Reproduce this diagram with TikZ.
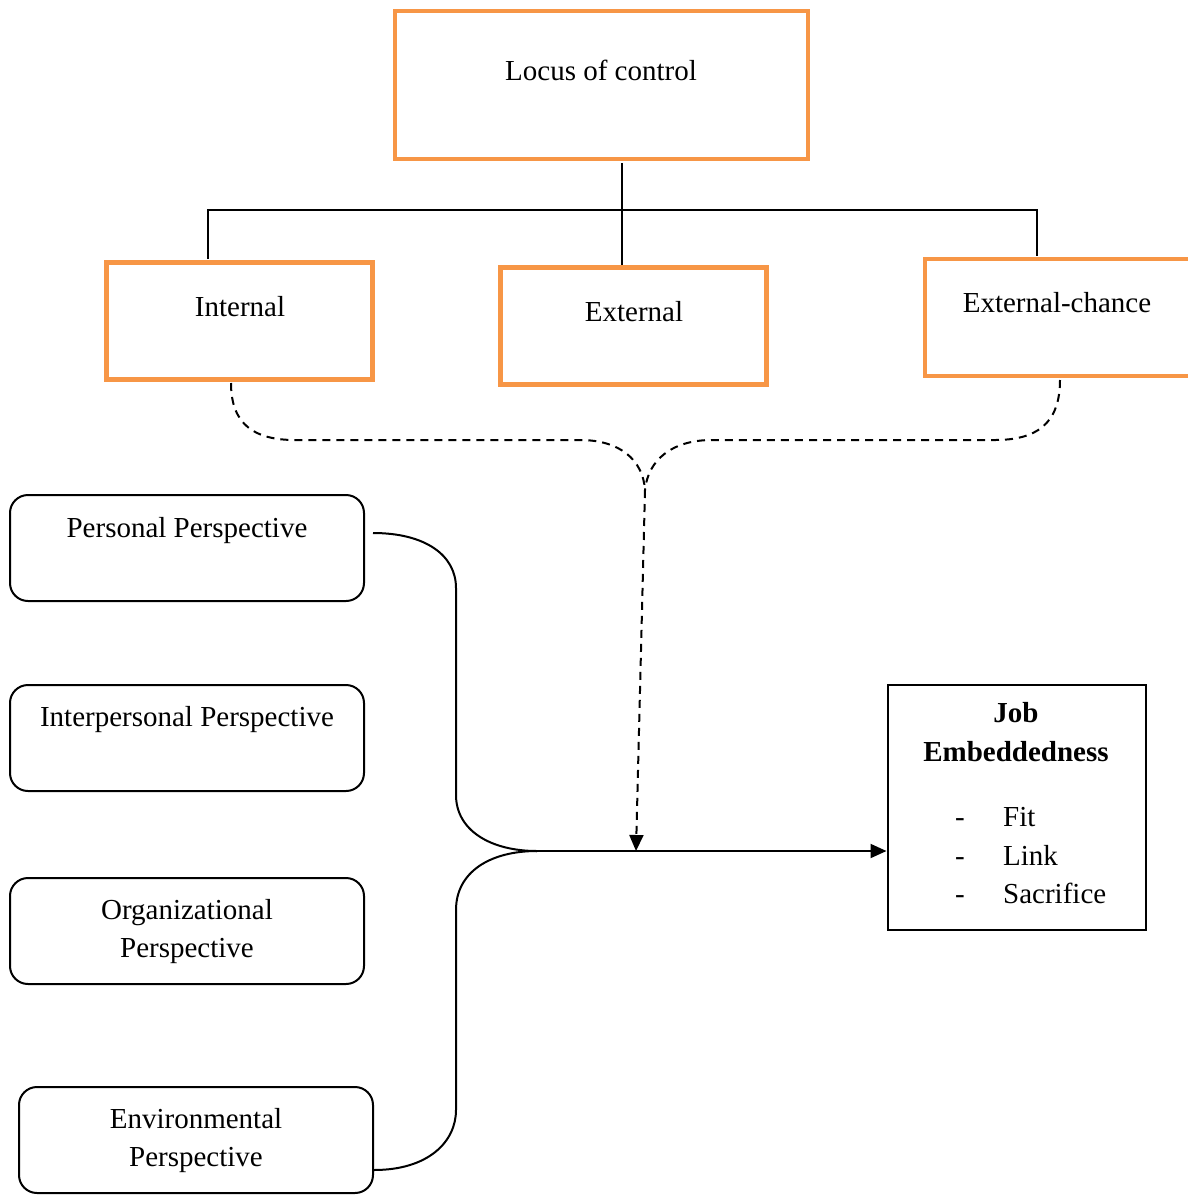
\documentclass[tikz,border=0pt]{standalone}
\usepackage{fontspec}
\setmainfont{Liberation Serif}
\usetikzlibrary{arrows.meta}
\definecolor{orng}{HTML}{F79646}
\begin{document}
\begin{tikzpicture}[x=1pt,y=-1pt,
  obox/.style={draw=orng,line width=4.5pt,minimum width=#1,inner sep=0pt},
  rbox/.style={draw=black,line width=2pt,rounded corners=18pt,minimum width=354pt,minimum height=106pt,inner sep=0pt},
  txt/.style={font=\fontsize{29}{35}\selectfont,anchor=base,inner sep=0pt},
  conn/.style={line width=2pt},
  dconn/.style={line width=2pt,dash pattern=on 8pt off 6pt},
  arr/.style={-{Triangle[length=16pt,width=14pt]}}]
\useasboundingbox (0,0) rectangle (1188,1195);
\fill[white] (0,0) rectangle (1188,1195);
% top boxes
\node[obox=413pt,minimum height=148pt] (loc) at (601.5,85) {};
\node[obox=266pt,minimum height=117pt] (int) at (239.5,321) {};
\node[obox=266pt,minimum height=117pt] (ext) at (633.5,326) {};
\node[obox=266pt,minimum height=117pt] (exc) at (1058,317.5) {};
\node[txt] (loct) at (601,80) {Locus of control};
\node[txt] (intt) at (240,316) {Internal};
\node[txt] (extt) at (634,321) {External};
\node[txt] (exct) at (1057,312) {External-chance};
% tree connectors
\draw[conn] (622,163) -- (622,265);
\draw[conn] (208,259) |- (1037,210) -- (1037,256);
% left boxes
\node[rbox] (per) at (187,548) {};
\node[rbox] (intp) at (187,738) {};
\node[rbox] (org) at (187,931) {};
\node[rbox] (env) at (196,1140) {};
\node[txt] (pert) at (187,537) {Personal Perspective};
\node[txt] (intpt) at (187,726) {Interpersonal Perspective};
\node[txt] (orgt1) at (187,919) {Organizational};
\node[txt] (orgt2) at (187,957) {Perspective};
\node[txt] (envt1) at (196,1128) {Environmental};
\node[txt] (envt2) at (196,1166) {Perspective};
% job box
\node[draw,line width=2pt,minimum width=258pt,minimum height=245pt,inner sep=0pt] (job) at (1016.5,807) {};
\node[txt,font=\fontsize{29}{35}\selectfont\bfseries] (jobt1) at (1016,722) {Job};
\node[txt,font=\fontsize{29}{35}\selectfont\bfseries] (jobt2) at (1016,761) {Embeddedness};
\node[txt] (d1) at (960,826) {-};
\node[txt] (d2) at (960,865) {-};
\node[txt] (d3) at (960,903) {-};
\node[txt,anchor=base west] (i1) at (1003,826) {Fit};
\node[txt,anchor=base west] (i2) at (1003,865) {Link};
\node[txt,anchor=base west] (i3) at (1003,903) {Sacrifice};
% merge point and connectors
\coordinate (m) at (537,851);
\coordinate (drop) at (636,851);
\coordinate (j) at (645,490);
\draw[conn] (373,533) .. controls (425,533) and (456,555) .. (456,588) -- (456,795) .. controls (456,830) and (490,851) .. (m);
\draw[conn] (374,1170) .. controls (428,1170) and (456,1142) .. (456,1110) -- (456,910) .. controls (456,872) and (490,851) .. (m);
\draw[conn,arr] (m) -- (m -| job.west);
% dashed
\draw[dconn] (231,383) .. controls (231,425) and (255,440) .. (295,440) -- (580,440) .. controls (620,440) and (643,460) .. (j);
\draw[dconn] (1060,380) .. controls (1060,425) and (1035,440) .. (995,440) -- (712,440) .. controls (672,440) and (648,460) .. (j);
\draw[dconn,arr] (j) -- (drop);
\end{tikzpicture}
\end{document}
